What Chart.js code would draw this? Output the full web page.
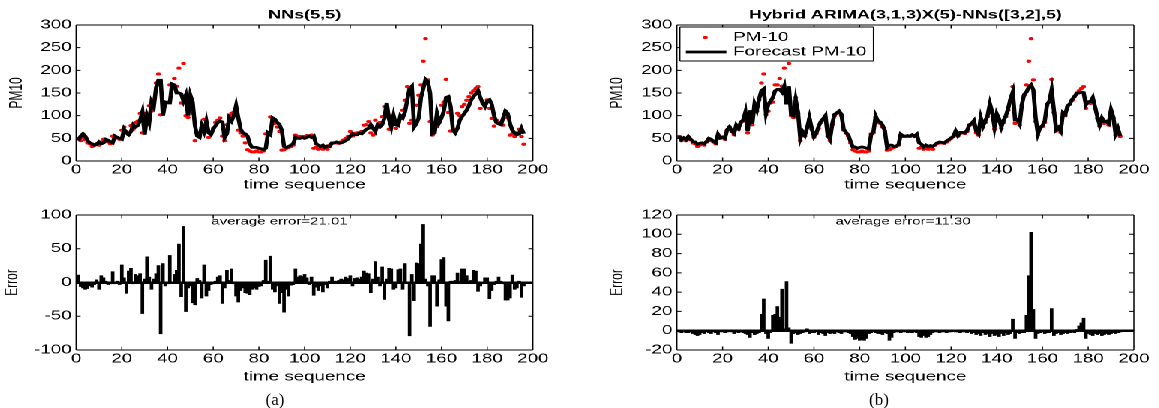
<!DOCTYPE html>
<html>
<head>
<meta charset="utf-8">
<title>PM10 forecasting: NNs vs hybrid ARIMA-NNs</title>
<script src="https://cdn.jsdelivr.net/npm/chart.js@4.4.1/dist/chart.umd.min.js"></script>
<style>
  html, body { margin: 0; padding: 0; background: #fff; }
  body { position: relative; width: 1159px; height: 408px; overflow: hidden; }
  /* the original figure is stretched sideways, so draw narrow and widen */
  #fig { position: absolute; left: 0; top: 0; width: 773px; height: 400px; transform: scaleX(1.5); transform-origin: 0 0; }
  #fig canvas { position: absolute; }
  .cap { position: absolute; top: 390px; width: 60px; text-align: center; line-height: 20px;
         font: 17px "Liberation Serif", "Times New Roman", serif; color: #000; }
</style>
</head>
<body>
<div id="fig">
  <canvas id="topA" width="386" height="200" style="left:0;top:0"></canvas>
  <canvas id="errA" width="386" height="200" style="left:0;top:200px"></canvas>
  <canvas id="topB" width="387" height="200" style="left:386px;top:0"></canvas>
  <canvas id="errB" width="387" height="200" style="left:386px;top:200px"></canvas>
</div>
<div class="cap" style="left:245px">(a)</div>
<div class="cap" style="left:849px">(b)</div>

<script>
// ---- data (time sequence starts at 1) ----
var pm10A = [50,45,52,47,40,38,32,35,38,35,
  42,48,45,42,38,55,50,52,48,68,
  75,65,58,78,70,85,88,105,62,105,
  80,122,110,135,172,192,102,110,128,130,
  168,168,182,165,205,128,215,100,96,140,
  105,45,62,55,75,92,70,52,60,72,
  85,90,95,55,45,80,100,105,108,100,
  68,62,55,40,25,22,20,20,22,20,
  20,22,60,62,97,85,83,75,65,24,
  25,28,30,32,35,57,54,54,54,54,
  56,54,57,28,30,26,28,26,30,26,
  35,39,40,40,39,42,46,50,54,65,
  55,61,62,61,65,79,80,87,62,57,
  90,75,85,98,120,105,70,100,87,72,
  85,98,112,134,164,83,90,79,123,145,
  168,220,270,179,87,57,72,76,85,123,
  130,180,107,66,70,63,105,100,120,125,
  134,142,150,155,160,164,116,128,127,135,
  116,94,77,90,83,85,79,110,95,57,
  60,54,62,70,54,37];

var forecastA = [45,55,60,55,45,40,38,35,36,42,
  38,40,48,46,42,40,55,52,50,48,
  70,62,58,65,80,75,78,90,108,58,
  100,85,130,120,162,178,178,100,130,128,
  128,170,168,150,150,148,132,145,100,145,
  130,78,55,52,78,65,88,62,58,70,
  78,85,88,86,52,60,95,88,100,122,
  95,70,62,60,55,38,30,30,30,28,
  27,25,28,62,58,95,92,85,80,68,
  32,30,32,35,38,52,50,50,52,50,
  52,55,52,55,38,35,32,35,30,33,
  32,40,40,42,40,40,42,45,48,55,
  60,58,58,62,60,65,70,72,80,72,
  65,80,75,80,95,128,92,75,100,80,
  78,100,95,108,135,160,165,75,82,95,
  140,160,180,175,150,60,62,105,85,95,
  110,140,142,120,68,62,72,90,98,105,
  112,122,135,142,148,155,140,128,120,132,
  135,125,100,85,82,80,95,110,105,82,
  68,62,58,60,72,60];

var errorA = [11,-6,-8,-10,-9,-5,-7,-3,4,-10,
  10,7,2,-3,-2,16,-2,2,-3,26,
  7,-16,17,21,-2,12,10,13,-46,5,
  38,8,-10,5,13,25,-76,28,-5,-2,
  40,0,12,18,57,-21,83,-43,-8,-5,
  -30,-33,6,3,-23,26,-20,-12,-3,-1,
  2,8,10,-31,-8,18,3,20,-2,-20,
  -29,-12,-8,-15,-16,-18,-10,-8,-10,-6,
  -5,3,33,2,39,-10,-14,-5,-31,-15,
  -44,-10,-20,-4,-3,20,8,10,9,12,
  7,-3,8,-19,-7,-12,-5,-14,-3,-8,
  2,8,1,2,3,5,4,8,6,10,
  -5,6,7,5,8,17,14,13,-15,5,
  31,8,-5,23,-25,5,21,20,-10,-8,
  19,20,-10,28,0,-79,12,-27,29,28,
  57,86,5,-5,-65,10,10,-35,4,34,
  37,-35,-57,2,2,3,14,2,20,20,
  10,2,3,18,17,-13,-5,-2,7,7,
  -24,-12,-3,2,8,2,-2,-26,-26,-23,
  11,-10,-8,2,-22,-5];

var pm10B = [54,45,50,45,52,47,40,38,32,35,
  38,35,42,48,45,42,38,55,50,52,
  48,68,75,65,58,78,70,85,88,105,
  62,105,80,122,110,135,172,192,102,110,
  128,130,168,168,182,165,205,128,215,100,
  96,140,105,45,62,55,75,92,70,52,
  60,72,85,90,95,55,45,80,100,105,
  108,100,68,62,55,40,25,22,20,20,
  22,20,20,22,60,62,97,85,83,75,
  65,24,25,28,30,32,35,57,54,54,
  54,54,56,54,57,28,30,26,28,26,
  30,26,35,39,40,40,39,42,46,50,
  54,65,55,61,62,61,65,79,80,87,
  62,57,90,75,85,98,120,105,70,100,
  87,72,85,98,112,134,164,83,90,79,
  123,145,168,220,270,179,87,57,72,76,
  85,123,130,180,107,66,70,63,105,100,
  120,125,134,142,150,155,160,164,116,128,
  127,135,116,94,77,90,83,85,79,110,
  95,57,70,54];

var forecastB = [55,47,51,47,54,48,43,42,37,39,
  40,38,43,50,48,43,40,59,51,53,
  50,69,75,66,61,79,72,86,90,108,
  66,112,82,126,113,137,155,159,105,125,
  132,140,155,158,158,152,165,125,165,102,
  100,135,108,50,65,57,73,95,72,54,
  61,76,87,93,100,57,48,82,103,106,
  110,103,70,63,57,43,31,31,28,30,
  31,30,28,27,58,64,99,88,86,79,
  67,30,35,35,32,33,36,59,55,55,
  56,55,58,55,59,40,37,31,35,32,
  34,32,36,40,42,41,40,44,47,51,
  54,66,56,63,63,62,67,80,83,89,
  66,60,95,77,89,101,126,108,75,104,
  93,75,90,100,116,137,152,91,92,82,
  125,147,152,163,168,157,95,60,74,78,
  88,125,132,157,112,69,74,66,107,103,
  122,126,136,142,149,150,152,151,124,131,
  131,140,119,98,80,95,87,88,83,113,
  97,60,72,55];

var errorB = [-1,-2,-1,-2,-2,-1,-3,-4,-5,-4,
  -2,-3,-1,-2,-3,-1,-2,-4,-1,-1,
  -2,-1,0,-1,-3,-1,-2,-1,-2,-3,
  -4,-7,-2,-4,-3,-2,17,33,-3,-8,
  -2,16,17,25,14,43,2,51,3,-13,
  -3,-2,-4,-3,-2,-1,2,-3,-2,-2,
  -1,-4,-2,-3,-5,-2,-3,-2,-3,-1,
  -2,-3,-1,-1,-2,-3,-6,-9,-8,-10,
  -9,-10,-8,-3,-2,-1,-2,-3,-3,-4,
  -2,-3,-10,-7,-2,-1,-1,-2,-1,-1,
  -2,-1,-2,-1,-2,-6,-7,-5,-7,-6,
  -4,-2,-1,-1,-2,-1,-1,-2,-1,-1,
  0,-1,-1,-2,-1,-1,-2,-1,-3,-2,
  -4,-3,-5,-2,-4,-3,-6,-3,-5,-4,
  -6,-3,-5,-2,-4,-3,12,-8,-2,-3,
  -2,-2,16,57,102,22,-8,-3,-2,-1,
  -3,-2,-2,23,-5,-3,-2,-4,-3,-2,
  -3,-2,-1,-2,1,5,8,13,-8,-3,
  -4,-5,-3,-4,-3,-5,-4,-3,-4,-3,
  -2,-3,-2,-1];

var xTicks = {min: 0, max: 200, step: 20};
var pmTicks = {min: 0, max: 300, step: 50};
var errTicksA = {min: -100, max: 100, step: 50};
var errTicksB = {min: -20, max: 120, step: 20};

var RED = '#ff0000';
var FONT = '"Liberation Sans", Arial, Helvetica, sans-serif';

function seq(vals) {
  return vals.map(function (v, i) { return {x: i + 1, y: v}; });
}

Chart.defaults.font.family = FONT;
Chart.defaults.font.size = 12.5;
Chart.defaults.color = '#000';

function hLine(ctx, x0, x1, y) { ctx.moveTo(x0, y); ctx.lineTo(x1, y); }
function vLine(ctx, x, y0, y1) { ctx.moveTo(x, y0); ctx.lineTo(x, y1); }

// matlab style box with inward ticks on all four sides
var frame = {
  id: 'frame',
  afterDraw: function (chart) {
    var ctx = chart.ctx, a = chart.chartArea, x = chart.scales.x, y = chart.scales.y;
    ctx.save();
    ctx.strokeStyle = '#000';
    ctx.lineWidth = 1;
    ctx.beginPath();
    hLine(ctx, a.left, a.right, a.top);
    hLine(ctx, a.left, a.right, a.bottom);
    y.ticks.forEach(function (t) {
      var p = y.getPixelForValue(t.value);
      hLine(ctx, a.left, a.left + 3, p);
      hLine(ctx, a.right - 3, a.right, p);
    });
    ctx.stroke();
    ctx.lineWidth = 0.75;
    ctx.beginPath();
    vLine(ctx, a.left, a.top, a.bottom);
    vLine(ctx, a.right, a.top, a.bottom);
    x.ticks.forEach(function (t) {
      var p = x.getPixelForValue(t.value);
      vLine(ctx, p, a.bottom - 3.5, a.bottom);
      vLine(ctx, p, a.top, a.top + 3.5);
    });
    ctx.stroke();
    ctx.restore();
  }
};

// boxed legend in the upper left corner of the axes
var boxLegend = {
  id: 'boxLegend',
  afterDraw: function (chart, args, o) {
    if (!o || !o.show) return;
    var ctx = chart.ctx, a = chart.chartArea, ds = chart.data.datasets;
    var l = a.left + 2, t = a.top + 2, r = a.left + 131, b = a.top + 36;
    ctx.save();
    ctx.fillStyle = '#fff';
    ctx.fillRect(l, t, r - l, b - t);
    ctx.strokeStyle = '#000';
    ctx.lineWidth = 1;
    ctx.beginPath(); hLine(ctx, l, r, t); hLine(ctx, l, r, b); ctx.stroke();
    ctx.lineWidth = 0.75;
    ctx.beginPath(); vLine(ctx, l, t, b); vLine(ctx, r, t, b); ctx.stroke();
    var rows = [a.top + 12.5, a.top + 27];
    ds.forEach(function (d, i) {
      var cy = rows[i];
      if (d.showLine === false) {
        ctx.fillStyle = d.pointBackgroundColor;
        ctx.beginPath(); ctx.arc(a.left + 19, cy, d.pointRadius, 0, Math.PI * 2); ctx.fill();
      } else {
        ctx.strokeStyle = d.borderColor;
        ctx.lineWidth = d.borderWidth;
        ctx.beginPath(); hLine(ctx, a.left + 6, a.left + 33, cy); ctx.stroke();
      }
      ctx.fillStyle = '#000';
      ctx.font = '12.5px ' + FONT;
      ctx.textAlign = 'left';
      ctx.textBaseline = 'middle';
      ctx.fillText(d.label, a.left + 37.5, cy);
    });
    ctx.restore();
  }
};

// "average error=..." text placed in data units
var note = {
  id: 'note',
  afterDatasetsDraw: function (chart, args, o) {
    if (!o || !o.text) return;
    var ctx = chart.ctx;
    ctx.save();
    ctx.font = '10px ' + FONT;
    ctx.fillStyle = '#000';
    ctx.textAlign = 'center';
    ctx.textBaseline = 'middle';
    ctx.fillText(o.text, chart.scales.x.getPixelForValue(o.x), chart.scales.y.getPixelForValue(o.y));
    ctx.restore();
  }
};

function xAxis(axisHeight, titleBottom) {
  return {
    type: 'linear', min: xTicks.min, max: xTicks.max, offset: false,
    grid: {display: false, drawTicks: false},
    border: {display: false},
    ticks: {stepSize: xTicks.step, padding: 1.5, maxRotation: 0, autoSkip: false},
    title: {display: true, text: 'time sequence', padding: {top: 0, bottom: titleBottom}},
    afterFit: function (s) { s.height = axisHeight; }
  };
}

function yAxis(t, title, titlePad, zero) {
  return {
    type: 'linear', min: t.min, max: t.max,
    border: {display: false},
    grid: zero ? {
      drawTicks: false,
      color: function (c) { return (c.tick && c.tick.value === 0) ? '#000' : 'rgba(0,0,0,0)'; },
      lineWidth: function (c) { return (c.tick && c.tick.value === 0) ? 2.5 : 0; }
    } : {display: false, drawTicks: false},
    ticks: {stepSize: t.step, padding: 3, callback: function (v) { return String(v); }},
    title: {display: true, text: title, font: {size: 12}, padding: {top: titlePad, bottom: 0}},
    afterFit: function (s) { s.width = 50.67; }
  };
}

function base(pad) {
  return {
    responsive: false, animation: false, devicePixelRatio: 2, events: [],
    layout: {padding: pad},
    plugins: {legend: {display: false}, tooltip: {enabled: false}, title: {display: false}}
  };
}

function topChart(id, pad, title, obs, fc, withLegend) {
  var opts = base(pad);
  opts.scales = {x: xAxis(39, 7.5), y: yAxis(pmTicks, 'PM10', 4, false)};
  opts.plugins.title = {display: true, text: title, fullSize: false,
    font: {size: 12, weight: 'bold'}, padding: {top: 8, bottom: 2.6}};
  opts.plugins.boxLegend = {show: withLegend};
  return new Chart(document.getElementById(id), {
    type: 'line',
    data: {datasets: [
      {label: 'PM-10', data: seq(obs), showLine: false, pointRadius: 1.6, pointBorderWidth: 0,
       pointBackgroundColor: RED, backgroundColor: RED, borderColor: RED, order: 1},
      {label: 'Forecast PM-10', data: seq(fc), borderColor: '#000', backgroundColor: '#000',
       borderWidth: 2.8, pointRadius: 0, tension: 0, order: 0}
    ]},
    options: opts,
    plugins: [frame, boxLegend]
  });
}

function errChart(id, pad, err, ticks, titlePad, text, tx, ty) {
  var opts = base(pad);
  opts.scales = {x: xAxis(50, 15.5), y: yAxis(ticks, 'Error', titlePad, true)};
  opts.plugins.note = {text: text, x: tx, y: ty};
  return new Chart(document.getElementById(id), {
    type: 'bar',
    data: {datasets: [
      {label: 'Error', data: seq(err), backgroundColor: '#000', borderWidth: 0,
       barThickness: 1.7}
    ]},
    options: opts,
    plugins: [frame, note]
  });
}

topChart('topA', {left: 0, right: 30.67, top: 0, bottom: 0}, 'NNs(5,5)', pm10A, forecastA, false);
topChart('topB', {left: 14.67, right: 17, top: 0, bottom: 0}, 'Hybrid ARIMA(3,1,3)X(5)-NNs([3,2],5)', pm10B, forecastB, true);
errChart('errA', {left: 0, right: 30.67, top: 15, bottom: 0}, errorA, errTicksA, 1, 'average error=21.01', 89, 90);
errChart('errB', {left: 14.67, right: 17, top: 15, bottom: 0}, errorB, errTicksB, 3.8, 'average error=11.30', 99, 113);
</script>
</body>
</html>
